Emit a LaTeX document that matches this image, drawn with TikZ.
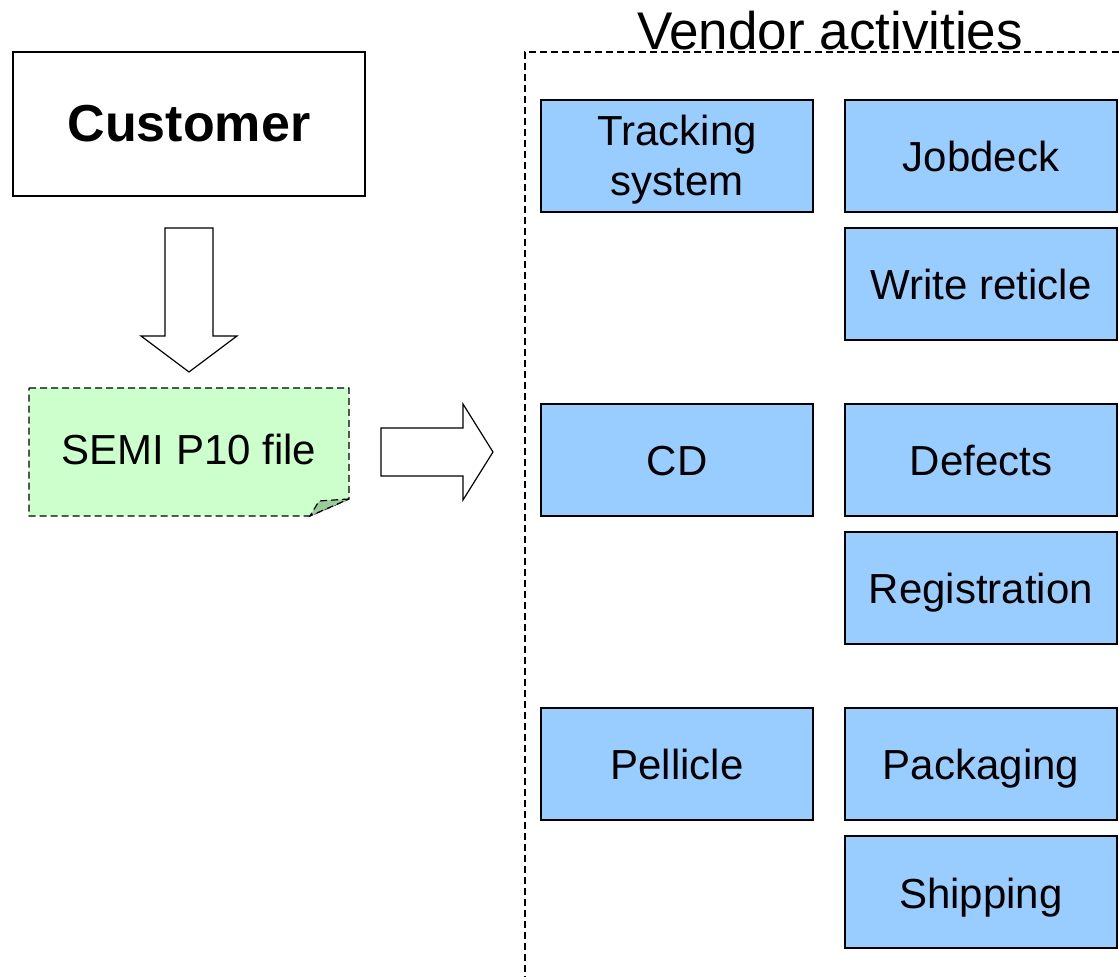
\documentclass[tikz,border=0pt]{standalone}
\usepackage{fontspec}
\setmainfont{Liberation Sans}
\usepackage{xcolor}
\usetikzlibrary{calc}

\definecolor{actblue}{HTML}{99CCFF}
\definecolor{filegreen}{HTML}{CCFFCC}
\definecolor{foldgreen}{HTML}{99CC99}

\tikzset{
  actbox/.style={draw=black, fill=actblue, line width=0.8pt,
    minimum width=136pt, minimum height=56pt, inner sep=0pt,
    align=center, font=\fontsize{21}{25}\selectfont},
  onebox/.style={actbox, text height=16pt, text depth=0pt},
  twobox/.style={actbox, text height=40pt, text depth=0pt},
  blockarrow/.style={draw=black, fill=white, line width=0.6pt},
  dashline/.style={dash pattern=on 3.5pt off 2pt, line width=0.6pt}
}

\begin{document}
\begin{tikzpicture}[x=0.5pt, y=-0.5pt]

%% ─── Canvas ─────────────────────────────────────────────────
\useasboundingbox (0,0) rectangle (1119,977);
\clip (0,0) rectangle (1119,977);

%% ─── Customer side ──────────────────────────────────────────
\node[draw=black, fill=white, line width=0.8pt, minimum width=176pt,
  minimum height=72pt, font=\fontsize{26}{30}\selectfont\bfseries]
  (customer) at (189,124) {Customer};

%% Down arrow
\filldraw[blockarrow]
  (165,228) -- (213,228) -- (213,336) -- (237,336) -- (189,372)
  -- (141,336) -- (165,336) -- cycle;

%% SEMI file with folded corner
\filldraw[fill=filegreen, draw=black, dashline]
  (29,388) -- (349,388) -- (349,499) -- (310,516) -- (29,516) -- cycle;
\filldraw[fill=foldgreen, draw=black, dashline]
  (349,499) -- (319,501) -- (310,516) -- cycle;
\node[font=\fontsize{21}{25}\selectfont, anchor=base] (semifile) at (189,465)
  {SEMI P10 file};

%% Right arrow
\filldraw[blockarrow]
  (381,428) -- (463,428) -- (463,404) -- (493,452) -- (463,500)
  -- (463,476) -- (381,476) -- cycle;

%% ─── Vendor activities ──────────────────────────────────────
\draw[dashline] (1130,52) -- (525,52) -- (525,990);
\node[font=\fontsize{26.5}{30}\selectfont, anchor=base] (vendor) at (830,50)
  {Vendor activities};

%% Left column
\node[twobox] (tracking) at (677,156) {Tracking\\system};
\node[onebox] (cd)       at (677,460) {CD};
\node[onebox] (pellicle) at (677,764) {Pellicle};

%% Right column
\node[onebox] (jobdeck)  at (981,156) {Jobdeck};
\node[onebox] (write)    at (981,284) {Write reticle};
\node[onebox] (defects)  at (981,460) {Defects};
\node[onebox] (registr)  at (981,588) {Registration};
\node[onebox] (packing)  at (981,764) {Packaging};
\node[onebox] (shipping) at (981,892) {Shipping};

\end{tikzpicture}
\end{document}
